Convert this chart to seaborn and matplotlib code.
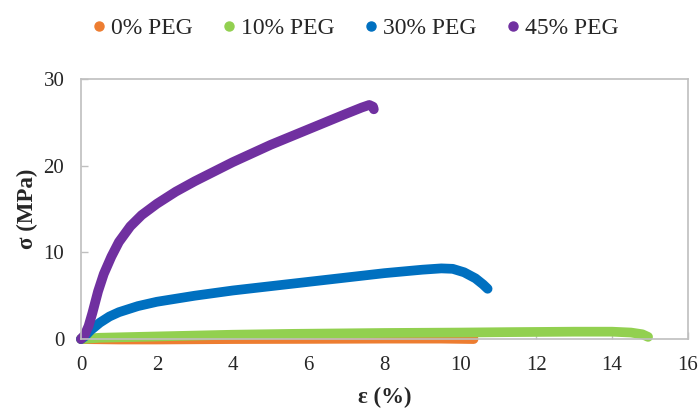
import pandas as pd
import seaborn as sns
import matplotlib.pyplot as plt
from matplotlib.lines import Line2D

# strain (%) / stress (MPa)
x_0 = [0, 1, 2, 4, 6, 8, 9.5, 10.35]
y_0 = [0, -0.05, -0.05, 0, 0.02, 0.05, 0.05, 0.0]

x_10 = [0, 0.5, 1, 2, 4, 5.6, 8, 10, 11.3, 13, 14, 14.5, 14.8, 14.95]
y_10 = [0, 0.15, 0.2, 0.3, 0.5, 0.6, 0.7, 0.75, 0.8, 0.85, 0.85, 0.75, 0.55, 0.25]

x_30 = [0, 0.1, 0.25, 0.5, 0.75, 1.0, 1.5, 2.0, 3.0, 4.0, 5.0, 6.0, 7.0, 8.0,
        9.0, 9.5, 9.8, 10.1, 10.4, 10.6, 10.72]
y_30 = [0, 0.3, 1.0, 1.9, 2.6, 3.1, 3.8, 4.3, 5.0, 5.6, 6.1, 6.6, 7.1, 7.6,
        8.0, 8.15, 8.1, 7.7, 7.0, 6.3, 5.8]

x_45 = [0, 0.1, 0.2, 0.3, 0.45, 0.6, 0.8, 1.0, 1.3, 1.6, 2.0, 2.5, 3.0, 3.5,
        4.0, 4.5, 5.0, 5.5, 6.0, 6.5, 7.0, 7.4, 7.6, 7.7, 7.72]
y_45 = [0, 0.5, 1.5, 3.0, 5.5, 7.5, 9.5, 11.2, 13.0, 14.3, 15.6, 17.0, 18.2, 19.3,
        20.4, 21.4, 22.4, 23.3, 24.2, 25.1, 26.0, 26.7, 27.0, 26.8, 26.5]

labels = ['0% PEG', '10% PEG', '30% PEG', '45% PEG']
colors = ['#ED7D31', '#92D050', '#0070C0', '#7030A0']

frames = []
for lab, xs, ys in zip(labels, [x_0, x_10, x_30, x_45], [y_0, y_10, y_30, y_45]):
    frames.append(pd.DataFrame({'strain': xs, 'stress': ys, 'sample': lab}))
df = pd.concat(frames, ignore_index=True)

sns.set_style('white')
plt.rcParams['font.family'] = ['Liberation Serif', 'DejaVu Serif']

fig = plt.figure(figsize=(7, 4.09), dpi=100)
ax = fig.add_axes([0.1157, 0.171, 0.867, 0.636])

for lab, col in zip(labels, colors):
    d = df[df['sample'] == lab]
    sns.lineplot(data=d, x='strain', y='stress', color=col, linewidth=7,
                 sort=False, estimator=None, ax=ax, legend=False,
                 solid_capstyle='round', solid_joinstyle='round', clip_on=False)

ax.set_xlim(0, 16)
ax.set_ylim(0, 30)
ax.set_xticks(range(0, 17, 2))
ax.set_yticks([0, 10, 20, 30])
for s in ax.spines.values():
    s.set_color('#BFBFBF')
    s.set_linewidth(1.2)
ax.tick_params(axis='both', direction='in', length=5, width=1, color='#BFBFBF',
               labelsize=15, pad=12, bottom=True, left=True)
ax.set_xlabel('ε (%)', fontsize=16.5, fontweight='bold', labelpad=9)
ax.set_ylabel('σ (MPa)', fontsize=16.5, fontweight='bold', labelpad=4)

handles = [Line2D([], [], linestyle='none', marker='o', markersize=6.5,
                  markerfacecolor=c, markeredgecolor=c) for c in colors]
fig.legend(handles, labels, loc='center', bbox_to_anchor=(0.508, 0.93), ncol=4,
           frameon=False, fontsize=17, handletextpad=0.25, columnspacing=1.3,
           handlelength=0.5)

fig.savefig('out.png', dpi=100)
